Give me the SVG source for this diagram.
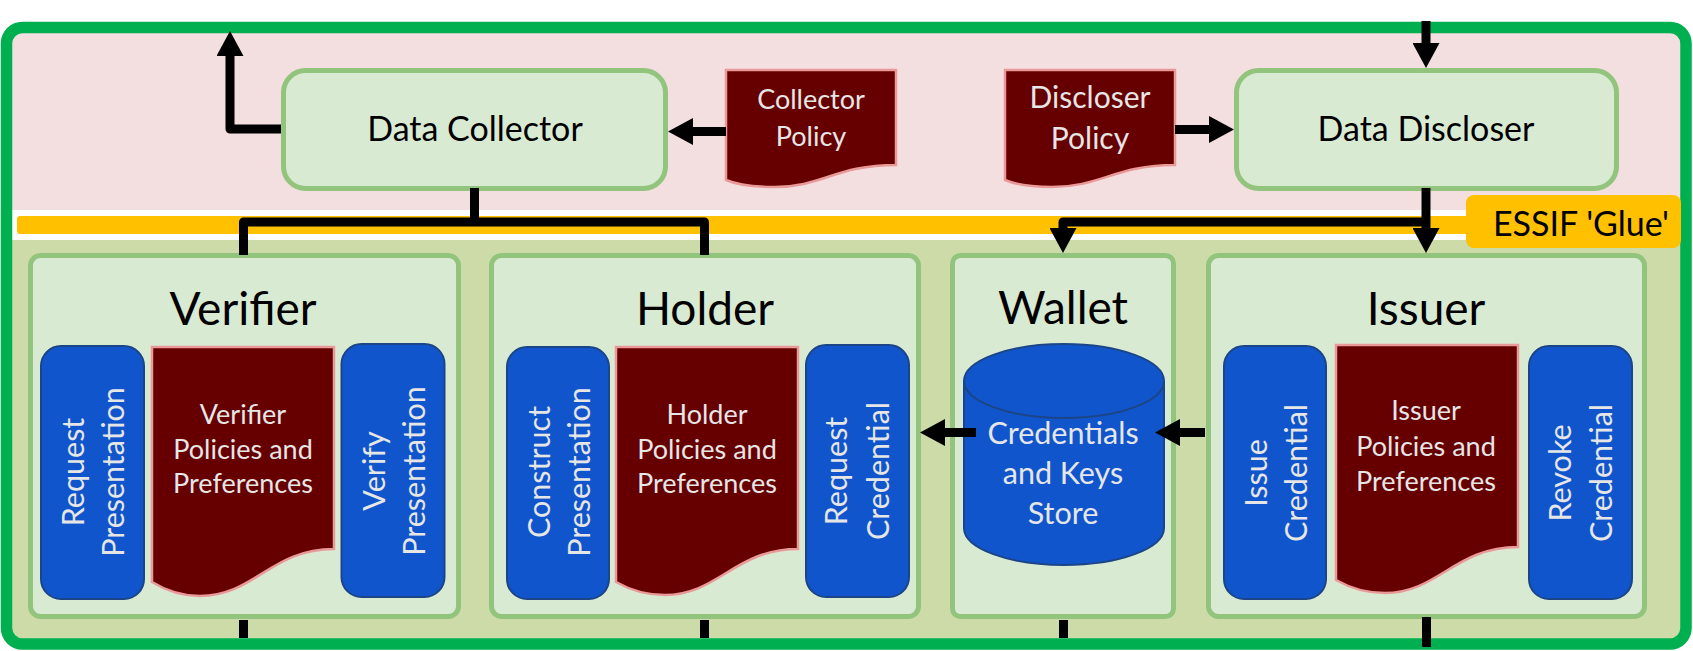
<svg xmlns="http://www.w3.org/2000/svg" width="1693" height="651" viewBox="0 0 1693 651">
<style>
text{font-family:Lato,"Open Sans","Liberation Sans",sans-serif;text-anchor:middle}
.box{fill:#d9ead3;stroke:#93c47d;stroke-width:5}
.doc{fill:#660000;stroke:#ea9999;stroke-width:2.5}
.blue{fill:#1155cc;stroke:#1c4587;stroke-width:2}
.t1{font-size:34px;fill:#000}
.t2{font-size:46px;fill:#000}
.dt{font-size:27px;fill:#e6e6e6}
.dp{font-size:27px;fill:#e6e6e6}
.dq{font-size:30px;fill:#e6e6e6}
.bt{font-size:30.500px;fill:#e6e6e6}
.ct{font-size:30.500px;fill:#e6e6e6}
.con{fill:none;stroke:#000;stroke-width:9;stroke-linejoin:round}
</style>
<defs>
<marker id="arrow" markerUnits="userSpaceOnUse" markerWidth="25" markerHeight="27" viewBox="0 0 25 27" refX="1" refY="13.5" orient="auto"><path d="M0 0L25 13.5L0 27Z" fill="#000"/></marker>
</defs>
<g id="background">
<rect x="10" y="30" width="1674" height="180" fill="#f4dfe0"/>
<rect x="10" y="240" width="1674" height="402" fill="#ccdba8"/>
<rect x="17" y="216" width="1460" height="18" rx="3" fill="#ffc000"/>
<rect x="6.5" y="27.5" width="1679.5" height="616.5" rx="16" fill="none" stroke="#00b050" stroke-width="11.5"/>
</g>
<g id="essif-glue"><rect x="1466" y="195" width="215" height="53" rx="8" fill="#ffc000"/><text x="1581" y="236" class="t1">ESSIF 'Glue'</text></g>
<g id="data-collector"><rect class="box" x="283.5" y="70.5" width="382" height="118" rx="22"/><text class="t1" x="475" y="141">Data Collector</text></g>
<g id="collector-policy"><path class="doc" d="M726 70H896V165C836 165 822 187 775 187C758 187 740 186 726 180Z"/><text class="dp" x="811" y="109">Collector</text><text class="dp" x="811" y="146">Policy</text></g>
<g id="discloser-policy"><path class="doc" d="M1005 70H1175V165C1115 165 1101 187 1052 187C1035 187 1019 186 1005 180Z"/><text class="dq" x="1090" y="108">Discloser</text><text class="dq" x="1090" y="149">Policy</text></g>
<g id="data-discloser"><rect class="box" x="1236.5" y="70.5" width="380" height="118" rx="22"/><text class="t1" x="1426" y="141">Data Discloser</text></g>

<g id="verifier"><rect class="box" x="30.5" y="255.5" width="428" height="361" rx="10"/><text class="t2" x="243" y="325">Verifier</text>
<rect class="blue" x="41" y="346" width="103" height="253" rx="20"/>
<text class="bt" transform="translate(84 472) rotate(-90)">Request</text><text class="bt" transform="translate(124 472) rotate(-90)">Presentation</text>
<path class="doc" d="M152 347H334V549C271 549 254 596 200 596C180 596 165 590 152 582Z"/>
<text class="dt" x="243" y="424">Verifier</text><text class="dt" x="243" y="459">Policies and</text><text class="dt" x="243" y="493">Preferences</text>
<rect class="blue" x="341.5" y="344" width="103" height="253" rx="20"/>
<text class="bt" transform="translate(385 471) rotate(-90)">Verify</text><text class="bt" transform="translate(425 471) rotate(-90)">Presentation</text></g>

<g id="holder"><rect class="box" x="491.5" y="255.5" width="427" height="361" rx="10"/><text class="t2" x="705" y="325">Holder</text>
<rect class="blue" x="507" y="347" width="102" height="252" rx="20"/>
<text class="bt" transform="translate(550 472) rotate(-90)">Construct</text><text class="bt" transform="translate(590 472) rotate(-90)">Presentation</text>
<path class="doc" d="M616 347H798V549C735 549 718 595 665 595C645 595 630 590 616 582Z"/>
<text class="dt" x="707" y="424">Holder</text><text class="dt" x="707" y="459">Policies and</text><text class="dt" x="707" y="493">Preferences</text>
<rect class="blue" x="806" y="345" width="103" height="252" rx="20"/>
<text class="bt" transform="translate(847 471) rotate(-90)">Request</text><text class="bt" transform="translate(889 471) rotate(-90)">Credential</text></g>

<g id="wallet"><rect class="box" x="952.5" y="255.5" width="221" height="361" rx="8"/><text class="t2" x="1063" y="324">Wallet</text>
<path class="blue" d="M964 381V528A100 37 0 0 0 1164 528V381A100 37 0 0 0 964 381A100 37 0 0 0 1164 381"/>
<text class="ct" x="1063" y="444">Credentials</text><text class="ct" x="1063" y="484">and Keys</text><text class="ct" x="1063" y="524">Store</text></g>

<g id="issuer"><rect class="box" x="1208.5" y="255.5" width="436" height="361" rx="10"/><text class="t2" x="1426" y="325">Issuer</text>
<rect class="blue" x="1224" y="346" width="102" height="253" rx="20"/>
<text class="bt" transform="translate(1267 473) rotate(-90)">Issue</text><text class="bt" transform="translate(1307 473) rotate(-90)">Credential</text>
<path class="doc" d="M1336 345H1518V547C1455 547 1438 593 1385 593C1365 593 1350 588 1336 580Z"/>
<text class="dt" x="1426" y="420">Issuer</text><text class="dt" x="1426" y="456">Policies and</text><text class="dt" x="1426" y="491">Preferences</text>
<rect class="blue" x="1529" y="346" width="103" height="253" rx="20"/>
<text class="bt" transform="translate(1571 473) rotate(-90)">Revoke</text><text class="bt" transform="translate(1612 473) rotate(-90)">Credential</text></g>

<g id="connectors">
<path class="con" d="M281 129H230V55" marker-end="url(#arrow)"/>
<path class="con" d="M726 131.500H692" marker-end="url(#arrow)"/>
<path class="con" d="M1175 129.500H1210" marker-end="url(#arrow)"/>
<path class="con" d="M1426 21V44" marker-end="url(#arrow)"/>
<path class="con" d="M1426 188V229" marker-end="url(#arrow)"/>
<path class="con" d="M1426 222H1063V229" marker-end="url(#arrow)"/>
<path class="con" d="M474.500 188V222"/>
<path class="con" d="M243.500 255V222H704.500V255"/>
<path class="con" d="M976 432.500H944" marker-end="url(#arrow)"/>
<path class="con" d="M1205 432.500H1179" marker-end="url(#arrow)"/>
<path class="con" d="M243.500 620V638M704.500 620V638M1063.500 620V638M1426.500 617V647"/>
</g>
</svg>
